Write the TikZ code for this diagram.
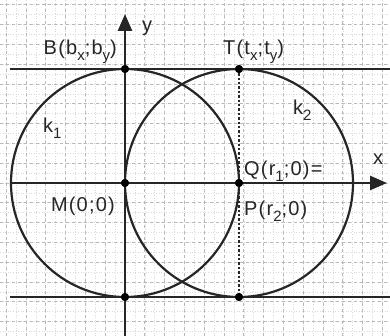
\documentclass[tikz,border=0pt]{standalone}
\usepackage{fontspec}
\setmainfont[LetterSpace=6]{Liberation Sans}
\usetikzlibrary{positioning, arrows.meta}

\newcommand{\lowidx}[1]{\raisebox{-0.5ex}{\fontsize{15}{15}\selectfont #1}}

\begin{document}
\begin{tikzpicture}[x=1pt, y=1pt,
  axisline/.style={line width=2.6pt, -{Triangle[length=17pt, width=14pt]}},
  tangent/.style={line width=2.6pt},
  circ/.style={line width=2.2pt},
  pt/.style={circle, fill=black, inner sep=0pt, minimum size=8pt},
  lbl/.style={font=\fontsize{20}{22}\selectfont, inner sep=0pt, text=black!85}]
\useasboundingbox[fill=white] (-125,-153) rectangle (265,183);
% grid
\draw[gray!30, dotted, line width=0.6pt, step=9.9pt] (-125,-153) grid (265,183);
\draw[gray!55, dashed, line width=0.8pt, step=19.8pt] (-125,-153) grid (265,183);

% points
\node[pt] (M) at (0,0) {};
\node[pt] (B) at (0,114) {};
\node[pt] (T) at (114,114) {};
\node[pt] (Q) at (114,0) {};
\node[pt] (Mlow) at (0,-114) {};
\node[pt] (Tlow) at (114,-114) {};

% ends of lines
\coordinate (xstart) at (-115,0);
\coordinate (xend) at (262,0);
\coordinate (ystart) at (0,-153);
\coordinate (yend) at (0,169);
\coordinate (topl) at (-115,114);
\coordinate (topr) at (265,114);
\coordinate (botl) at (-115,-114);
\coordinate (botr) at (265,-114);

% axes and tangents
\draw[axisline, black!85] (xstart) -- (xend);
\draw[axisline, black!85] (ystart) -- (yend);
\draw[tangent, black!85] (topl) -- (topr);
\draw[tangent, black!85] (botl) -- (botr);

% circles
\draw[circ, black!85] (M) circle[radius=114];
\draw[circ, black!85] (Q) circle[radius=114];

\draw[dotted, line width=2.4pt, black!85] (T) -- (Tlow);

% redraw dots on top
\foreach \p in {M,B,T,Q,Mlow,Tlow}
  \fill (\p) circle[radius=4];

% labels
\node[lbl, anchor=base west] (ylab) at (17,151) {y};
\node[lbl, anchor=base west] (xlab) at (248,18) {x};
\node[lbl, anchor=base east] (Blab) at (-8,128) {B(b\lowidx{x};b\lowidx{y})};
\node[lbl, anchor=base west] (Tlab) at (98,128) {T(t\lowidx{x};t\lowidx{y})};
\node[lbl, anchor=base west] (k1lab) at (-82,50) {k\lowidx{1}};
\node[lbl, anchor=base west] (k2lab) at (168,68) {k\lowidx{2}};
\node[lbl, anchor=base west] (Qlab) at (119,7) {Q(r\lowidx{1};0)=};
\node[lbl, anchor=base east] (Mlab) at (-10,-29) {M(0;0)};
\node[lbl, anchor=base west] (Plab) at (119,-33) {P(r\lowidx{2};0)};
\end{tikzpicture}
\end{document}
